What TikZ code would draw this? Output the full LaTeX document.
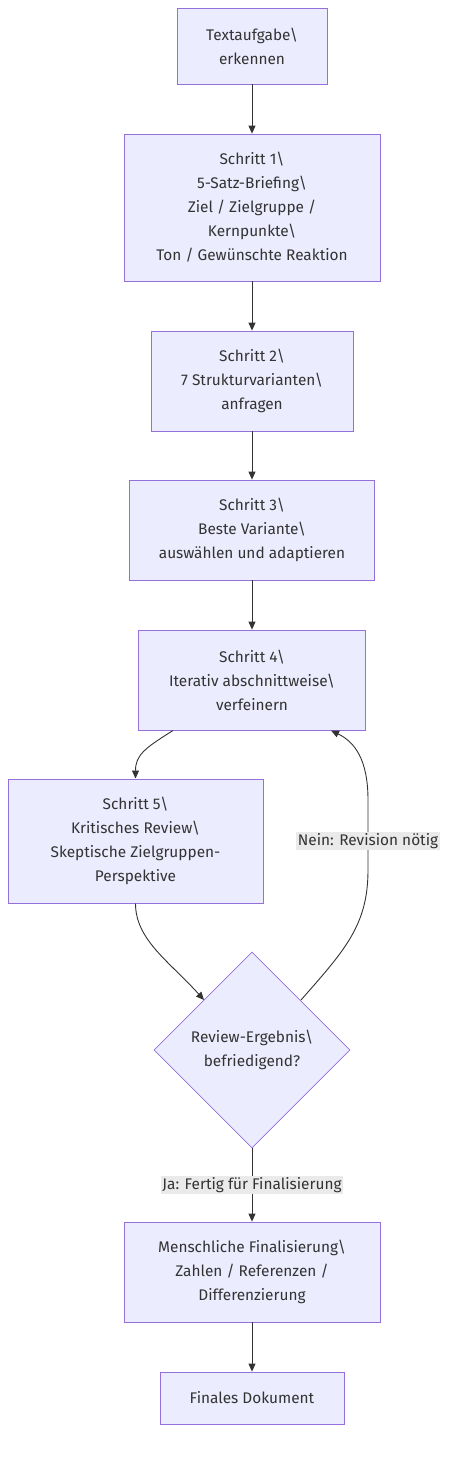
\documentclass[tikz,border=0pt]{standalone}
\usepackage{fontspec}
\setmainfont{Fira Sans}
\usetikzlibrary{shapes.geometric,arrows.meta}
\definecolor{nodefill}{HTML}{ECECFF}
\definecolor{nodeline}{HTML}{9370DB}
\definecolor{edgecol}{HTML}{333333}
\definecolor{lblbg}{HTML}{EAEAEA}
\begin{document}
\begin{tikzpicture}[x=1pt,y=-1pt,
  box/.style={draw=nodeline,fill=nodefill,line width=0.8pt,align=center,inner sep=0pt,
    text=edgecol,font=\fontsize{15.4}{24}\selectfont},
  dia/.style={diamond,draw=nodeline,fill=nodefill,line width=0.8pt,align=center,inner sep=0pt,
    minimum width=196pt,minimum height=196pt,text=edgecol,font=\fontsize{15.4}{24}\selectfont},
  lbl/.style={fill=lblbg,inner sep=1.5pt,text=edgecol,font=\fontsize{15.4}{18}\selectfont},
  edge/.style={draw=edgecol,line width=0.9pt,-{Triangle[length=8pt,width=7pt]}}]
\useasboundingbox (0,0) rectangle (454,1457);
\node[box,minimum width=150pt,minimum height=76pt] (t) at (252,46) {Textaufgabe\textbackslash\\erkennen};
\node[box,minimum width=256pt,minimum height=147pt] (s1) at (252,207.5) {Schritt 1\textbackslash\\5-Satz-Briefing\textbackslash\\Ziel / Zielgruppe /\\Kernpunkte\textbackslash\\Ton / Gewünschte Reaktion};
\node[box,minimum width=202pt,minimum height=100pt] (s2) at (252,381) {Schritt 2\textbackslash\\7 Strukturvarianten\textbackslash\\anfragen};
\node[box,minimum width=245pt,minimum height=100pt] (s3) at (252,530) {Schritt 3\textbackslash\\Beste Variante\textbackslash\\auswählen und adaptieren};
\node[box,minimum width=227pt,minimum height=100pt] (s4) at (252,680) {Schritt 4\textbackslash\\Iterativ abschnittweise\textbackslash\\verfeinern};
\node[box,minimum width=255pt,minimum height=124pt] (s5) at (135.5,841) {Schritt 5\textbackslash\\Kritisches Review\textbackslash\\Skeptische Zielgruppen-\\Perspektive};
\node[dia] (d) at (252,1050) {Review-Ergebnis\textbackslash\\befriedigend?};
\node[box,minimum width=256pt,minimum height=100pt] (m) at (252,1272) {Menschliche Finalisierung\textbackslash\\Zahlen / Referenzen /\\Differenzierung};
\node[box,minimum width=184pt,minimum height=52pt] (f) at (252,1398) {Finales Dokument};

\draw[edge] (t.south) -- (s1.north);
\draw[edge] (s1.south) -- (s2.north);
\draw[edge] (s2.south) -- (s3.north);
\draw[edge] (s3.south) -- (s4.north);
\coordinate (a1) at (173,730.5);
\coordinate (b1) at (135.5,778.5);
\draw[edge] (a1) .. controls (145,748) and (135.5,755) .. (b1);
\coordinate (a2) at (135.5,903.5);
\coordinate (b2) at (204,1000);
\draw[edge] (a2) .. controls (135.5,940) and (170,962) .. (b2);
\coordinate (a3) at (301,1000);
\coordinate (b3) at (331,730.5);
\draw[edge] (a3) .. controls (345,950) and (368,925) .. (368,870) -- (368,800) .. controls (368,760) and (355,742) .. (b3);
\node[lbl] (n) at (368,841) {Nein: Revision nötig};
\draw[edge] (d.south) -- node[lbl] (j) {Ja: Fertig für Finalisierung} (m.north);
\draw[edge] (m.south) -- (f.north);
\end{tikzpicture}
\end{document}
